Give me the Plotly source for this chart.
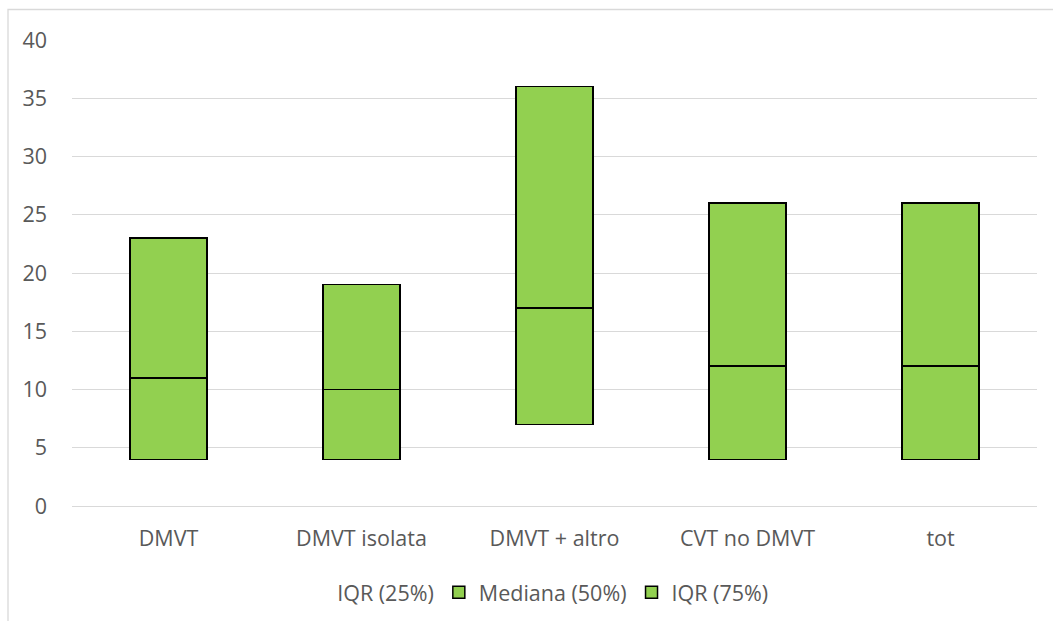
import plotly.graph_objects as go

categories = ["DMVT", "DMVT isolata", "DMVT + altro", "CVT no DMVT", "tot"]
q1 = [4, 4, 7, 4, 4]
median = [11, 10, 17, 12, 12]
q3 = [23, 19, 36, 26, 26]

# stacked segments: invisible base up to Q1, then Q1->median, then median->Q3
seg_median = [m - a for m, a in zip(median, q1)]
seg_q3 = [b - m for b, m in zip(q3, median)]

green = "#92d050"
font = dict(family="'Open Sans', 'Noto Sans', sans-serif", size=21.5, color="#595959")

fig = go.Figure()
fig.add_trace(go.Bar(x=categories, y=q1, name="IQR (25%)",
                     marker=dict(color="rgba(0,0,0,0)", line=dict(width=0))))
fig.add_trace(go.Bar(x=categories, y=seg_median, name="Mediana (50%)",
                     marker=dict(color=green, line=dict(color="black", width=1.5))))
fig.add_trace(go.Bar(x=categories, y=seg_q3, name="IQR (75%)",
                     marker=dict(color=green, line=dict(color="black", width=1.5))))

fig.update_layout(
    barmode="stack",
    bargap=0.6,
    width=1053, height=621,
    margin=dict(l=72, r=16, t=40, b=115, autoexpand=False),
    paper_bgcolor="white", plot_bgcolor="white",
    font=font,
    hovermode=False,
    legend=dict(orientation="h", x=0.48, xanchor="center", y=-0.185, yanchor="middle",
                font=font, traceorder="normal", itemwidth=30),
    xaxis=dict(showgrid=False, showline=False, ticks="", ticklabelstandoff=17,
               automargin=False),
    yaxis=dict(range=[0, 40], dtick=5, showgrid=True, gridcolor="#d9d9d9", gridwidth=1.3,
               zeroline=True, zerolinecolor="#d9d9d9", zerolinewidth=1.3,
               showline=False, ticks="", ticklabelstandoff=24, automargin=False),
    shapes=[dict(type="rect", xref="paper", yref="paper",
                 x0=(8 - 72) / 965, x1=1.2, y0=-0.5, y1=1 + (40 - 9.5) / 466,
                 line=dict(color="#d9d9d9", width=1.3), layer="below")],
)

fig.write_html("out.html")
